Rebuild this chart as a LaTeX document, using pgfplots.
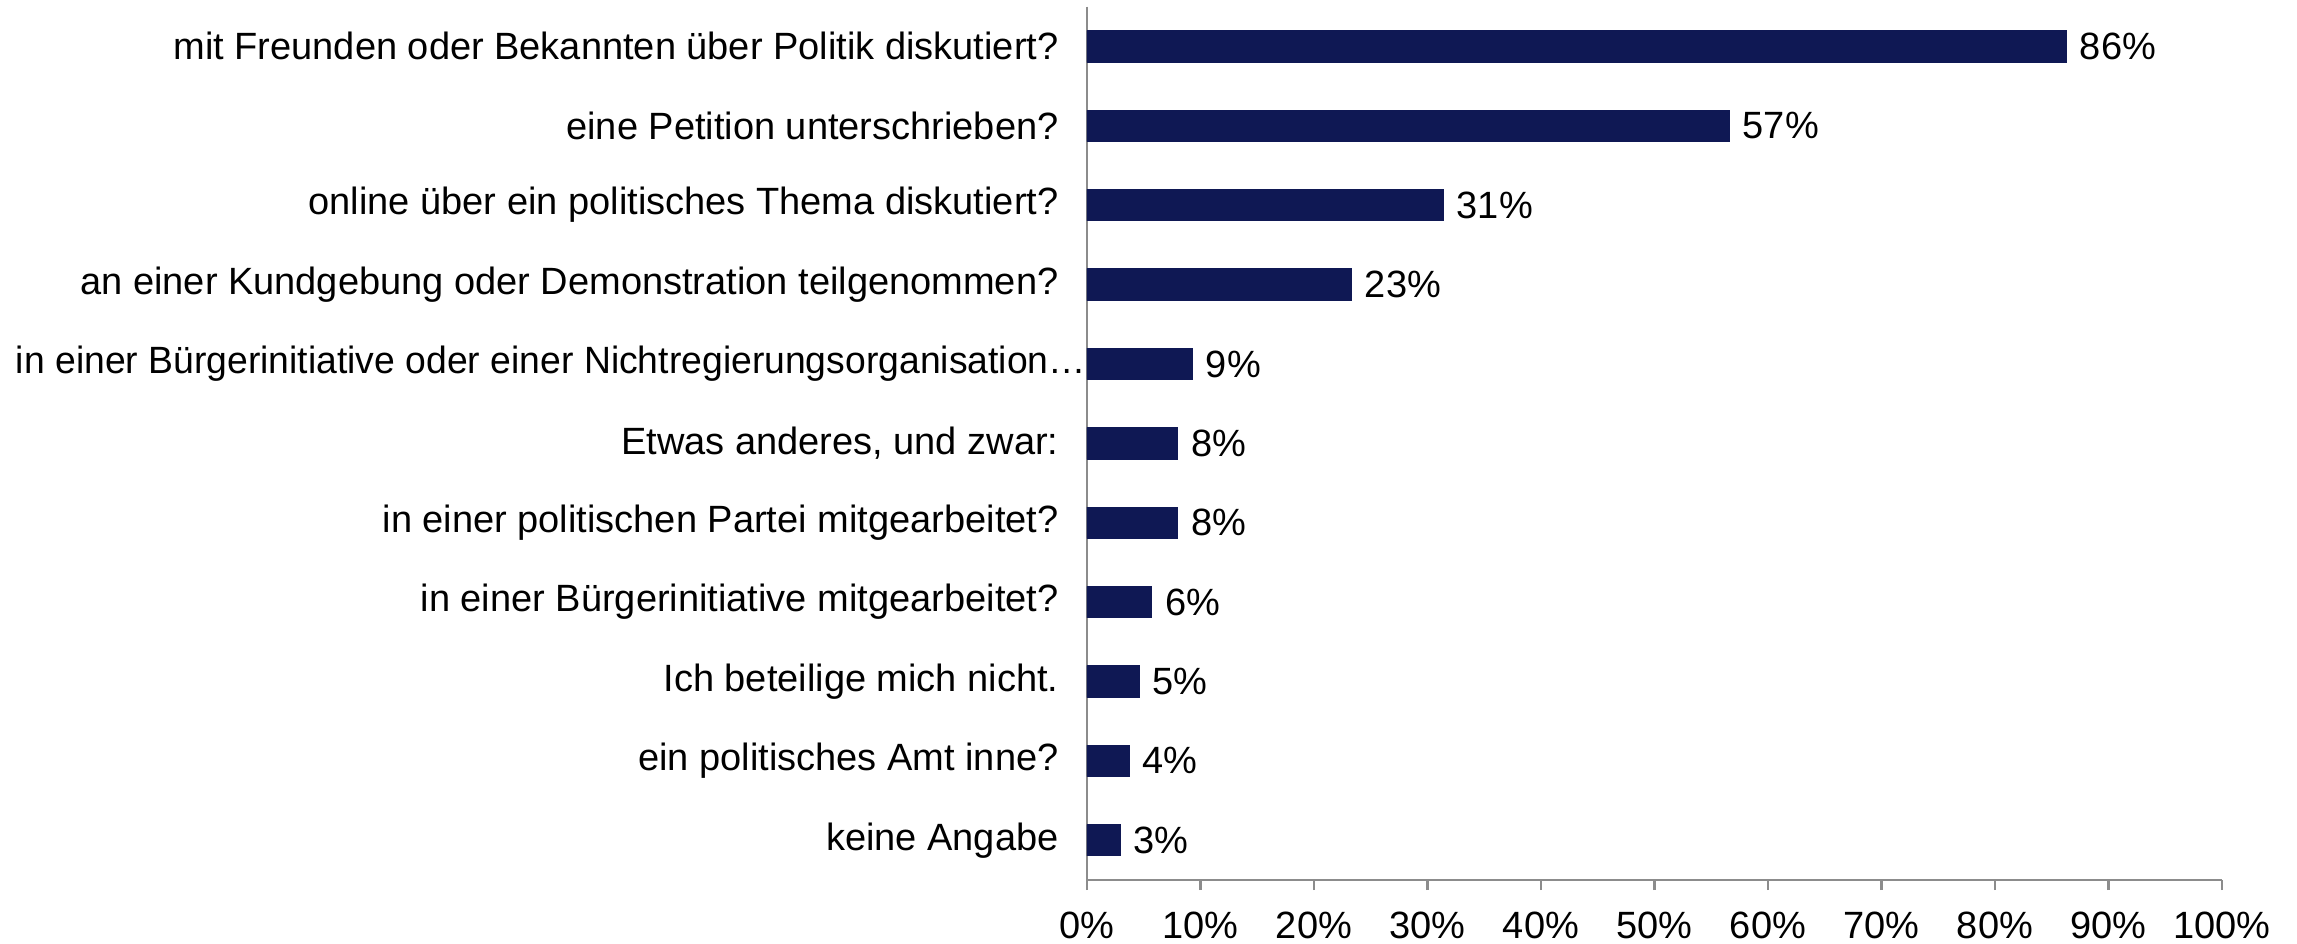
\documentclass[border=0pt]{standalone}
\usepackage{fontspec}
\setmainfont{Liberation Sans}
\usepackage{graphicx}
\usepackage{pgfplots}
\pgfplotsset{compat=1.18}
\usepackage{pgfplotstable}
\definecolor{barblue}{RGB}{15,24,84}
\definecolor{axgray}{RGB}{140,140,140}
\pgfplotstableread[col sep=comma]{
y,v,lab
0,86.3,86\%
1,56.6,57\%
2,31.4,31\%
3,23.3,23\%
4,9.3,9\%
5,8.0,8\%
6,8.0,8\%
7,5.7,6\%
8,4.6,5\%
9,3.7,4\%
10,2.9,3\%
}\datatab
\begin{document}
\begin{tikzpicture}
\useasboundingbox (-326.1pt,-19.2pt) rectangle (363pt,264pt);
\begin{axis}[
  at={(0,0)}, anchor=south west,
  scale only axis, width=340.5pt, height=262pt,
  xbar, bar width=9.3pt,
  xmin=0, xmax=100, ymin=-0.5, ymax=10.5,
  y dir=reverse,
  axis x line*=bottom, axis y line*=left,
  axis line style={axgray, line width=0.8pt},
  tick align=outside,
  xtick={0,10,...,100},
  xticklabel={\pgfmathprintnumber{\tick}\%},
  /pgf/number format/assume math mode=true,
  x tick style={axgray, line width=0.8pt},
  major tick length=3pt,
  ytick={0,...,10},
  y tick style={draw=none},
  minor ytick={-0.5,0.5,...,10.5},
  minor y tick style={axgray, line width=0.8pt},
  minor tick length=3pt,
  yticklabels={
    mit Freunden oder Bekannten über Politik diskutiert?,
    eine Petition unterschrieben?,
    online über ein politisches Thema diskutiert?,
    an einer Kundgebung oder Demonstration teilgenommen?,
    \scalebox{0.982}[1]{in einer Bürgerinitiative oder einer Nichtregierungsorganisation…}\kern-8.3pt,
    {Etwas anderes, und zwar:},
    in einer politischen Partei mitgearbeitet?,
    in einer Bürgerinitiative mitgearbeitet?,
    Ich beteilige mich nicht.,
    ein politisches Amt inne?,
    keine Angabe},
  every tick label/.append style={font=\fontsize{11.4pt}{13pt}\selectfont, text=black},
  yticklabel style={xshift=-2pt},
  xticklabel style={yshift=-3pt},
  nodes near coords,
  point meta=explicit symbolic,
  every node near coord/.append style={font=\fontsize{11.4pt}{13pt}\selectfont, text=black, anchor=west, xshift=0.5pt},
]
\addplot[fill=barblue, draw=barblue] table[x=v, y=y, meta=lab] {\datatab};
\end{axis}
\end{tikzpicture}
\end{document}
